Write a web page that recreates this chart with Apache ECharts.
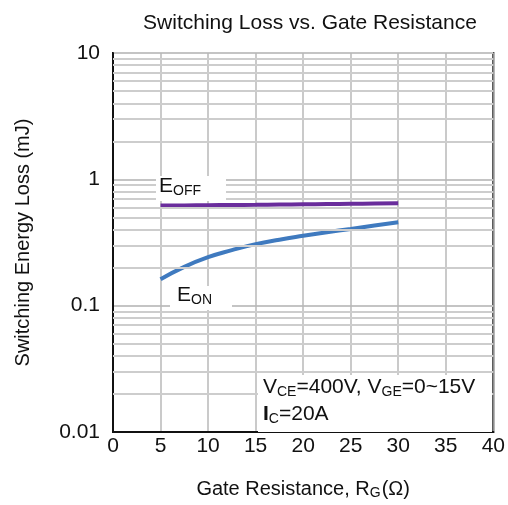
<!DOCTYPE html>
<html><head><meta charset="utf-8">
<script src="https://cdn.jsdelivr.net/npm/echarts@6/dist/echarts.min.js"></script>
<style>html,body{margin:0;padding:0;background:#fff}#c{width:508px;height:505px}</style>
</head><body><div id="c"></div>
<script>
var rg = [5, 7.5, 10, 12.5, 15, 17.5, 20, 22.5, 25, 27.5, 30];
var eoff = [0.62, 0.622, 0.624, 0.626, 0.628, 0.631, 0.634, 0.637, 0.64, 0.643, 0.646];
var eon = [0.162, 0.203, 0.242, 0.275, 0.307, 0.333, 0.357, 0.381, 0.405, 0.431, 0.457];
var xTicks = [0, 5, 10, 15, 20, 25, 30, 35, 40];
var yTicks = [0.01, 0.1, 1, 10];
var minorVals = [];
[0.01, 0.1, 1].forEach(function (d) { for (var k = 2; k <= 9; k++) minorVals.push(+(d * k).toPrecision(3)); });

var F = 'Liberation Sans, Arial, sans-serif';
var chart = echarts.init(document.getElementById('c'));
chart.setOption({
  backgroundColor: '#fff',
  animation: false,
  title: { text: 'Switching Loss vs. Gate Resistance', left: 305, textAlign: 'center', top: 8,
    textStyle: { fontFamily: F, fontSize: 21, fontWeight: 'normal', color: '#111' } },
  grid: { left: 113, right: 14, top: 53, bottom: 72, show: true, borderColor: '#111', borderWidth: 2, backgroundColor: 'transparent' },
  xAxis: { type: 'value', min: 0, max: 40, interval: 5,
    name: 'Gate Resistance, R{s|G}(Ω)', nameLocation: 'middle', nameGap: 46,
    nameTextStyle: { fontFamily: F, fontSize: 20, color: '#111', rich: { s: { fontFamily: F, fontSize: 14, color: '#111', padding: [8, 1, 0, 0] } } },
    axisLine: { show: true, lineStyle: { color: '#111', width: 2 } }, axisTick: { show: false },
    axisLabel: { fontFamily: F, fontSize: 21, color: '#111', margin: 4, formatter: function (v) { return xTicks.indexOf(v) >= 0 ? String(v) : ''; } },
    splitLine: { show: true, lineStyle: { color: '#b8b8b8', width: 1.5 } } },
  yAxis: { type: 'log', logBase: 10, min: 0.01, max: 10,
    name: 'Switching Energy Loss (mJ)', nameLocation: 'middle', nameGap: 80,
    nameTextStyle: { fontFamily: F, fontSize: 20, color: '#111' },
    axisLine: { show: true, lineStyle: { color: '#111', width: 2 } }, axisTick: { show: false },
    axisLabel: { fontFamily: F, fontSize: 21, color: '#111', margin: 13, formatter: function (v) { var r = yTicks.filter(function (t) { return Math.abs(t - v) / t < 1e-6; }); return r.length ? String(r[0]) : ''; } },
    splitLine: { show: true, lineStyle: { color: '#c4c4c4', width: 2 } } },
  series: [
    { type: 'line', data: [], silent: true,
      markLine: { silent: true, symbol: 'none', label: { show: false },
        lineStyle: { color: '#cdcdcd', width: 2, type: 'solid' },
        data: minorVals.map(function (v) { return { yAxis: v }; }) } },
    { name: 'EOFF', type: 'line', smooth: true, showSymbol: false,
      data: rg.map(function (x, i) { return [x, eoff[i]]; }),
      lineStyle: { color: '#6a2d9c', width: 4 } },
    { name: 'EON', type: 'line', smooth: 0.5, showSymbol: false,
      data: rg.map(function (x, i) { return [x, eon[i]]; }),
      lineStyle: { color: '#3f7abf', width: 4 } }
  ],
  graphic: [
    { type: 'rect', shape: { x: 156, y: 176, width: 70, height: 25 }, style: { fill: '#fff' }, z: 100 },
    { type: 'text', left: 159, top: 176, z: 101, style: { text: 'E{s|OFF}', font: '21px ' + F, fill: '#111',
      rich: { s: { fontFamily: F, fontSize: 14, fill: '#111', padding: [9, 0, 0, 0] } } } },
    { type: 'rect', shape: { x: 170, y: 286, width: 62, height: 24 }, style: { fill: '#fff' }, z: 100 },
    { type: 'text', left: 177, top: 285, z: 101, style: { text: 'E{s|ON}', font: '21px ' + F, fill: '#111',
      rich: { s: { fontFamily: F, fontSize: 14, fill: '#111', padding: [9, 0, 0, 0] } } } },
    { type: 'rect', shape: { x: 258, y: 375, width: 234, height: 57 }, style: { fill: '#fff' }, z: 100 },
    { type: 'text', left: 263, top: 377, z: 101, style: { text: 'V{s|CE}=400V, V{s|GE}=0~15V', font: '21px ' + F, fill: '#111',
      rich: { s: { fontFamily: F, fontSize: 14, fill: '#111', padding: [9, 0, 0, 0] } } } },
    { type: 'text', left: 263, top: 404, z: 101, style: { text: '{b|I}{s|C}=20A', font: '21px ' + F, fill: '#111',
      rich: { b: { fontFamily: F, fontSize: 21, fontWeight: 'bold', fill: '#111' }, s: { fontFamily: F, fontSize: 14, fill: '#111', padding: [9, 0, 0, 0] } } } }
  ]
});
</script></body></html>
